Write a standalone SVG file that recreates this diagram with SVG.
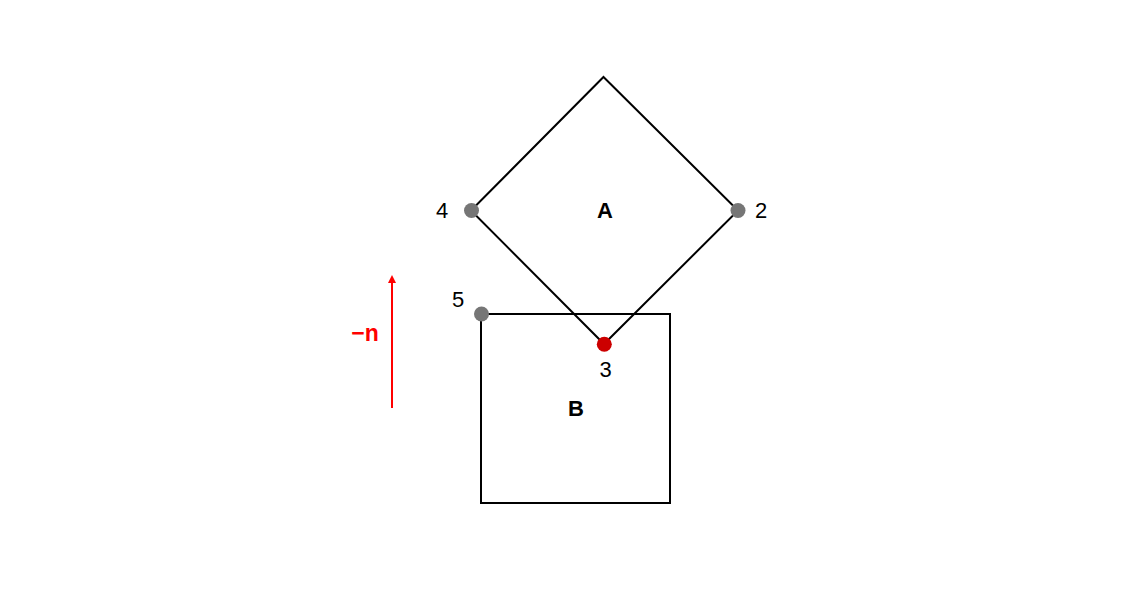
<svg xmlns="http://www.w3.org/2000/svg" width="1137" height="604" viewBox="0 0 1137 604">
<style>
.shape{fill:none;stroke:#000;stroke-width:2}
.lbl{font-family:"Liberation Sans",Arial,sans-serif;font-size:22px;fill:#000;text-anchor:middle}
.bold{font-weight:bold}
.gray{fill:#767676}
.red{fill:#cc0000}
</style>
<rect width="1137" height="604" fill="#fff"/>
<g id="nodeB">
<rect class="shape" x="481" y="314" width="189" height="189"/>
<text class="lbl bold" x="576" y="416">B</text>
</g>
<g id="nodeA">
<path class="shape" d="M603.5,77 L738,210.5 L604,344 L471,210.5 Z"/>
<text class="lbl bold" x="605" y="218">A</text>
</g>
<g id="connectors">
<line x1="392" y1="408" x2="392" y2="282" stroke="#ff0000" stroke-width="2"/>
<path d="M388,283 L392,275 L396,283 Z" fill="#ff0000"/>
<text x="365" y="341" font-family="'Liberation Sans',Arial,sans-serif" font-size="23" font-weight="bold" fill="#ff0000" text-anchor="middle">−n</text>
</g>
<g id="point4">
<circle class="gray" cx="471.5" cy="210.5" r="7.5"/>
<text class="lbl" x="442" y="218">4</text>
</g>
<g id="point2">
<circle class="gray" cx="738" cy="210.5" r="7.5"/>
<text class="lbl" x="761" y="218">2</text>
</g>
<g id="point5">
<circle class="gray" cx="481.5" cy="314" r="7.5"/>
<text class="lbl" x="458" y="307">5</text>
</g>
<g id="point3">
<circle class="red" cx="604.3" cy="344.3" r="7.5"/>
<text class="lbl" x="605.5" y="377">3</text>
</g>
</svg>
